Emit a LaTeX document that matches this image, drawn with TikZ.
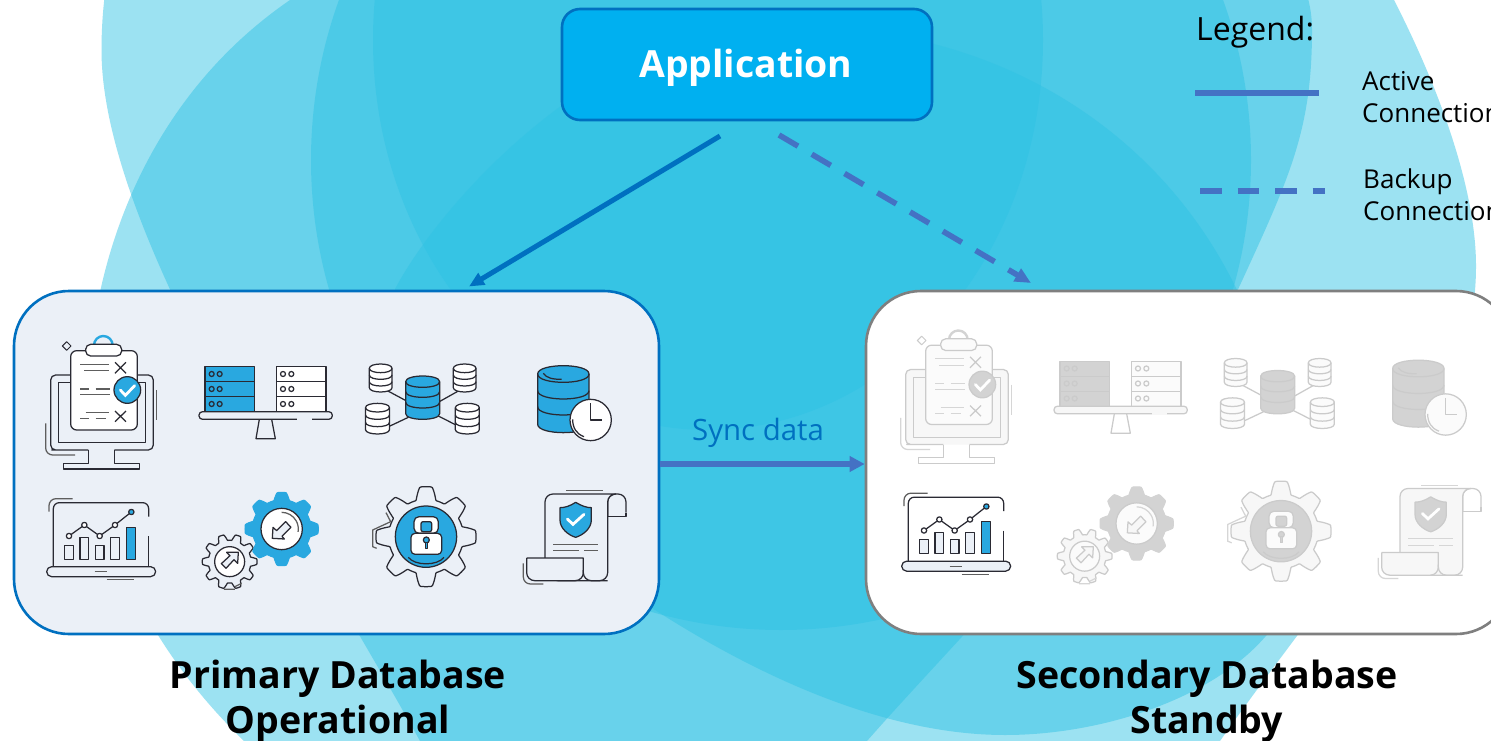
\documentclass[tikz,border=0pt]{standalone}
\usepackage{fontspec}
\setmainfont{Open Sans}
\usetikzlibrary{arrows.meta,calc}
\definecolor{layer}{HTML}{2FC2E4}
\definecolor{appfill}{HTML}{00B0F0}
\definecolor{deepblue}{HTML}{0070C0}
\definecolor{midblue}{HTML}{4472C4}
\definecolor{panelfill}{HTML}{EBF0F7}
\definecolor{panelgray}{HTML}{7F7F7F}
\tikzset{
  ln/.style={draw=icl,line width=1.25pt,line join=round},
  sf/.style={draw=ics,line width=1.25pt},
  layerfill/.style={fill=layer,fill opacity=.475},
  panelbox/.style={rectangle,rounded corners=55pt,minimum width=645pt,minimum height=343pt,inner sep=0pt,line width=2.6pt},
  titletext/.style={font=\fontsize{37.5}{45}\selectfont\bfseries,align=center,inner sep=0pt,anchor=base},
  legendtext/.style={font=\fontsize{26}{32}\selectfont,align=left,inner sep=0pt,anchor=base west},
  link/.style={line width=5.6pt,draw=midblue},
}
\newcommand\primarycolors{\definecolor{icl}{HTML}{2A2A33}\definecolor{ics}{HTML}{5E5E5E}\definecolor{acc}{HTML}{29A8E0}\colorlet{face}{white}\colorlet{pale}{panelfill}\colorlet{markc}{white}}
\newcommand\secondarycolors{\definecolor{icl}{HTML}{CBCBCB}\definecolor{ics}{HTML}{D6D6D6}\definecolor{acc}{HTML}{D3D3D3}\definecolor{face}{HTML}{FBFBFB}\definecolor{pale}{HTML}{F7F7F7}\colorlet{markc}{white}}
\newcommand\cyl[7]{%
  \pgfmathsetmacro\cylL{#1-#4}\pgfmathsetmacro\cylR{#1+#4}\pgfmathsetmacro\cylK{1.33*#5}%
  \filldraw[ln,fill=#6] (\cylL,#2) .. controls (\cylL,#2-\cylK) and (\cylR,#2-\cylK) .. (\cylR,#2) -- (\cylR,#3) .. controls (\cylR,#3+\cylK) and (\cylL,#3+\cylK) .. (\cylL,#3) -- cycle;
  \draw[ln] (\cylL,#2) .. controls (\cylL,#2+\cylK) and (\cylR,#2+\cylK) .. (\cylR,#2);
  \foreach \b in {#7} {\draw[ln] (\cylL,\b) .. controls (\cylL,\b+\cylK) and (\cylR,\b+\cylK) .. (\cylR,\b);}
}
\newcommand\gearpath[6]{plot[domain=0:360,samples=241,variable=\t] ({#1+(#4+(#3-#4)*min(1,max(0,.5+.9*cos(#5*(\t-#6)))))*cos(\t)},{#2+(#4+(#3-#4)*min(1,max(0,.5+.9*cos(#5*(\t-#6)))))*sin(\t)}) -- cycle}
% all icon coordinates: crop pixels x 3
\newcommand\iconMonitor{\begin{scope}[shift={(20,320)},x=.33333pt,y=-.33333pt]
  \draw[ln,fill=pale,rounded corners=5pt] (205,390) -- (110,390) -- (92,390) -- (92,165) -- (400,165) -- (400,390) -- (283,390);
  \draw[ln,fill=pale] (115,188) rectangle (377,368);
  \draw[ln] (205,390) -- (205,430) -- (130,430) -- (130,447) -- (358,447) -- (358,430) -- (283,430) -- (283,390);
  \draw[sf] (410,210) -- (410,300);
  \draw[sf,rounded corners=7pt] (77,310) -- (77,405) -- (165,405);
  \filldraw[ln,fill=face,rounded corners=6pt] (152,92) rectangle (352,330);
  \draw[line width=2.4pt,draw=acc] (222,76) arc[start angle=180,end angle=360,radius=28];
  \filldraw[ln,fill=face,rounded corners=5pt] (197,73) rectangle (305,108);
  \draw[ln,line width=1pt] (140,65) -- (153,78) -- (140,91) -- (127,78) -- cycle;
  \draw[sf] (180,133) -- (268,133) (193,152) -- (268,152);
  \draw[ln] (285,127) -- (318,160) (318,127) -- (285,160);
  \draw[sf] (180,207) -- (208,207) (227,207) -- (270,207) (180,224) -- (270,224);
  \filldraw[ln,fill=acc] (322,210) circle[radius=40];
  \draw[draw=markc,line width=2.8pt,line cap=round] (301,210) -- (316,226) -- (344,197);
  \draw[sf] (197,278) -- (268,278) (180,296) -- (208,296) (227,296) -- (258,296);
  \draw[ln] (285,273) -- (318,305) (318,273) -- (285,305);
\end{scope}}
\newcommand\iconBalance{\begin{scope}[shift={(20,320)},x=.33333pt,y=-.33333pt]
  \filldraw[ln,fill=acc] (555,140) rectangle (703,275);
  \filldraw[ln,fill=face] (770,140) rectangle (918,275);
  \draw[ln] (555,185) -- (703,185) (555,230) -- (703,230) (770,185) -- (918,185) (770,230) -- (918,230);
  \foreach \yy in {162,207,252} {
    \draw[ln] (575,\yy) circle[radius=7.5] (599,\yy) circle[radius=7.5] (789,\yy) circle[radius=7.5] (814,\yy) circle[radius=7.5];
  }
  \filldraw[ln,fill=pale,rounded corners=3.5pt] (537,275) rectangle (937,298);
  \draw[draw=pale,line width=2pt] (832,298) -- (876,298);
  \draw[ln] (718,298) -- (708,356) -- (766,356) -- (755,298);
\end{scope}}
\newcommand\iconCluster{\begin{scope}[shift={(350,320)},x=.33333pt,y=-.33333pt]
  \draw[ln] (112,212) -- (168,242) (325,213) -- (268,245) (120,318) -- (175,292) (318,315) -- (265,288);
  \cyl{92}{145}{203}{34}{13}{face}{165,185}
  \cyl{344}{145}{203}{34}{13}{face}{165,185}
  \cyl{82.5}{263}{329}{36}{13}{face}{285,307}
  \cyl{352}{263}{329}{36}{13}{face}{285,307}
  \cyl{218}{185}{281}{51}{17}{acc}{215,247}
\end{scope}}
\newcommand\iconDbClock{\begin{scope}[shift={(350,320)},x=.33333pt,y=-.33333pt]
  \cyl{640}{162}{313}{77}{25}{acc}{212,260}
  \draw[ln] (580,160) .. controls (590,175) and (610,178) .. (635,178);
  \filldraw[ln,fill=face] (722,300) circle[radius=62];
  \draw[ln] (722,250) -- (722,300) -- (757,300);
  \draw[ln] (668,298) .. controls (668,325) and (680,342) .. (702,350);
\end{scope}}
\newcommand\iconLaptop{\begin{scope}[shift={(20,320)},x=.33333pt,y=-.33333pt]
  \draw[ln,rounded corners=6pt] (100,740) -- (100,548) -- (386,548) -- (386,590);
  \draw[ln] (386,648) -- (386,740);
  \draw[sf,rounded corners=7pt] (87,575) -- (87,536) -- (158,536);
  \filldraw[ln,fill=panelfill,rounded corners=5pt] (80,740) -- (407,740) -- (407,770) -- (80,770) -- cycle;
  \draw[sf] (224,755) -- (262,755) (260,779) -- (342,779);
  \filldraw[ln,fill=pale] (134,676) rectangle (160,718) (180,653) rectangle (206,718) (226,676) rectangle (252,718) (272,653) rectangle (298,718);
  \filldraw[ln,fill=acc] (320,622) rectangle (346,718);
  \draw[ln] (147,648) -- (193,615) -- (239,648) -- (285,615) -- (334,576);
  \filldraw[ln,fill=face] (147,648) circle[radius=8] (193,615) circle[radius=8] (239,648) circle[radius=8] (285,615) circle[radius=8];
  \filldraw[ln,fill=acc] (334,576) circle[radius=8];
\end{scope}}
\newcommand\iconGears{\begin{scope}[shift={(20,320)},x=.33333pt,y=-.33333pt]
  \filldraw[ln,fill=pale] \gearpath{629}{725}{82}{64}{10}{0};
  \filldraw[ln,fill=face] (629,725) circle[radius=45];
  \filldraw[ln,fill=pale] (655,697) -- (653,730) -- (642,719) -- (618,745) -- (604,731) -- (630,707) -- (620,697) -- cycle;
  \draw[sf] (612,808) -- (645,808) (645,800) -- (665,790);
  \filldraw[draw=acc,line width=1pt,fill=acc] \gearpath{785}{627}{110}{88}{8}{0};
  \filldraw[ln,fill=face] (785,627) circle[radius=62];
  \draw[ics,line width=1.25pt] (785,577) arc[start angle=-90,end angle=10,radius=50];
  \filldraw[ln,fill=pale] (757,655) -- (759,622) -- (770,632) -- (797,605) -- (813,622) -- (786,649) -- (793,657) -- cycle;
\end{scope}}
\newcommand\iconLockGear{\begin{scope}[shift={(350,320)},x=.33333pt,y=-.33333pt]
  \filldraw[ln,fill=pale] \gearpath{228}{650}{150}{112}{8}{0};
  \draw[sf] (108,578) -- (122,605) -- (68,630) -- (68,680) -- (80,685);
  \filldraw[ln,fill=acc] (228,650) circle[radius=92];
  \draw[ln] (175,712) .. controls (195,738) and (262,738) .. (282,712);
  \filldraw[ln,fill=face,rounded corners=5pt] (192,640) -- (192,590) -- (265,590) -- (265,640) -- cycle;
  \filldraw[ln,fill=acc,rounded corners=2pt] (213,605) rectangle (245,635);
  \filldraw[ln,fill=face,rounded corners=4pt] (183,640) rectangle (275,703);
  \filldraw[ln,fill=acc] (229,660) circle[radius=9];
  \filldraw[ln,fill=acc] (226,667) rectangle (232,685);
\end{scope}}
\newcommand\iconScroll{\begin{scope}[shift={(350,320)},x=.33333pt,y=-.33333pt]
  \draw[ln,rounded corners=8pt] (828,578) -- (828,522) -- (773,522) -- (773,590);
  \draw[ln] (773,590) -- (828,590) -- (828,578);
  \filldraw[ln,fill=pale,rounded corners=8pt] (585,714) -- (585,522) -- (800,522) -- (773,522) -- (773,782) -- (600,782) -- (585,714);
  \filldraw[ln,fill=pale] (530,714) -- (700,714) [rounded corners=8pt] -- (700,782) -- (530,782) -- (530,714);
  \draw[ln,rounded corners=8pt] (700,750) -- (700,782) -- (773,782);
  \draw[sf] (648,512) -- (758,512);
  \draw[sf,rounded corners=7pt] (520,730) -- (520,792) -- (580,792);
  \filldraw[ln,fill=acc] (677,547) .. controls (695,558) and (710,563) .. (724,563) -- (724,600) .. controls (724,625) and (700,645) .. (677,652) .. controls (654,645) and (630,625) .. (630,600) -- (630,563) .. controls (645,563) and (660,558) .. (677,547) -- cycle;
  \draw[draw=markc,line width=2.8pt,line cap=round] (652,597) -- (669,613) -- (702,583);
  \draw[sf] (610,673) -- (743,673) (610,692) -- (688,692) (703,692) -- (743,692);
\end{scope}}
\begin{document}
\begin{tikzpicture}[x=1pt,y=-1pt]
\useasboundingbox (0,0) rectangle (1491,741);
\clip (0,0) rectangle (1491,741);
\fill[white] (0,0) rectangle (1491,741);
% background layers
\fill[layerfill] (101.5,50) .. controls (101.5,-200) and (300,-400) .. (700,-400)
  .. controls (1100,-400) and (1300,-180) .. (1394,0)
  .. controls (1440,90) and (1476,190) .. (1476,266)
  .. controls (1476,430) and (1340,570) .. (1220,741)
  .. controls (1050,980) and (560,980) .. (420,741)
  .. controls (300,525) and (101.5,230) .. (101.5,50) -- cycle;
\fill[layerfill] (88,400) .. controls (88,290) and (130,110) .. (290,0)
  .. controls (450,-110) and (1312,-250) .. (1312,30)
  .. controls (1312,130) and (1290,176) .. (1241,283)
  .. controls (1181,413) and (960,635) .. (867,741)
  .. controls (720,900) and (420,930) .. (244,741)
  .. controls (150,650) and (88,530) .. (88,400) -- cycle;
\fill[layerfill] (781,160) circle[radius=470];
\fill[layerfill] (708,40) ellipse[x radius=335,y radius=390];
\fill[layerfill] (395,289) .. controls (445,195) and (600,35) .. (750,30)
  .. controls (960,10) and (1150,110) .. (1237,290)
  .. controls (1320,460) and (1340,560) .. (1265,637)
  .. controls (1210,700) and (1100,735) .. (1005,735)
  .. controls (900,735) and (780,690) .. (655,610)
  .. controls (530,540) and (395,400) .. (395,289) -- cycle;
% panels and application
\node[panelbox,draw=deepblue,fill=panelfill] (prim) at (336.5,462.5) {};
\node[panelbox,draw=panelgray,fill=white] (sec) at (1188.5,462.5) {};
\node[rectangle,rounded corners=18pt,minimum width=370pt,minimum height=111pt,inner sep=0pt,draw=deepblue,line width=2.6pt,fill=appfill] (app) at (747,64.5) {};
\node[inner sep=0pt,anchor=base,text=white,font=\fontsize{37.4}{37.4}\selectfont\bfseries] (applabel) at (746,78) {Application};
% connectors
\coordinate (solidStart) at (720,136);
\coordinate (solidEnd) at (469,286.5);
\coordinate (dashStart) at (779,135);
\coordinate (dashEnd) at (1031,283);
\draw[line width=5pt,draw=deepblue,-{Triangle[length=15pt,width=13pt]}] (solidStart) -- (solidEnd);
\draw[link,dash pattern=on 22pt off 16pt,-{Triangle[length=16pt,width=14pt]}] (dashStart) -- (dashEnd);
\draw[link,-{Triangle[length=15pt,width=15pt]}] ([yshift=-1.5pt]prim.east) -- ([yshift=-1.5pt]sec.west);
\node[inner sep=0pt,anchor=base,text=deepblue,font=\fontsize{29.4}{29.4}\selectfont] (syncl) at (758,440) {Sync data};
% legend
\node[inner sep=0pt,anchor=base west,font=\fontsize{32}{32}\selectfont] (legt) at (1196,41) {Legend:};
\coordinate (la) at (1195,93);
\coordinate (lb) at (1319,93);
\coordinate (lc) at (1200,191);
\coordinate (ld) at (1325,191);
\draw[link] (la) -- (lb);
\draw[link,dash pattern=on 21.5pt off 16pt] (lc) -- (ld);
\node[legendtext] (lact) at (1362,122.5) {Active\\Connection};
\node[legendtext] (lbak) at (1363,220) {Backup\\Connection};
% titles
\node[titletext] (tprim) at (338,733) {Primary Database\\Operational};
\node[titletext] (tsec) at (1207,733) {Secondary Database\\Standby};
% primary icons
\begin{scope}
  \primarycolors
  \iconMonitor \iconBalance \iconCluster \iconDbClock
  \iconLaptop \iconGears \iconLockGear \iconScroll
\end{scope}
% secondary icons
\begin{scope}[shift={(855,-5.5)}]
  \secondarycolors
  \iconMonitor \iconBalance \iconCluster \iconDbClock
  \iconGears \iconLockGear \iconScroll
  \primarycolors
  \colorlet{pale}{panelfill}
  \iconLaptop
\end{scope}
\end{tikzpicture}
\end{document}
